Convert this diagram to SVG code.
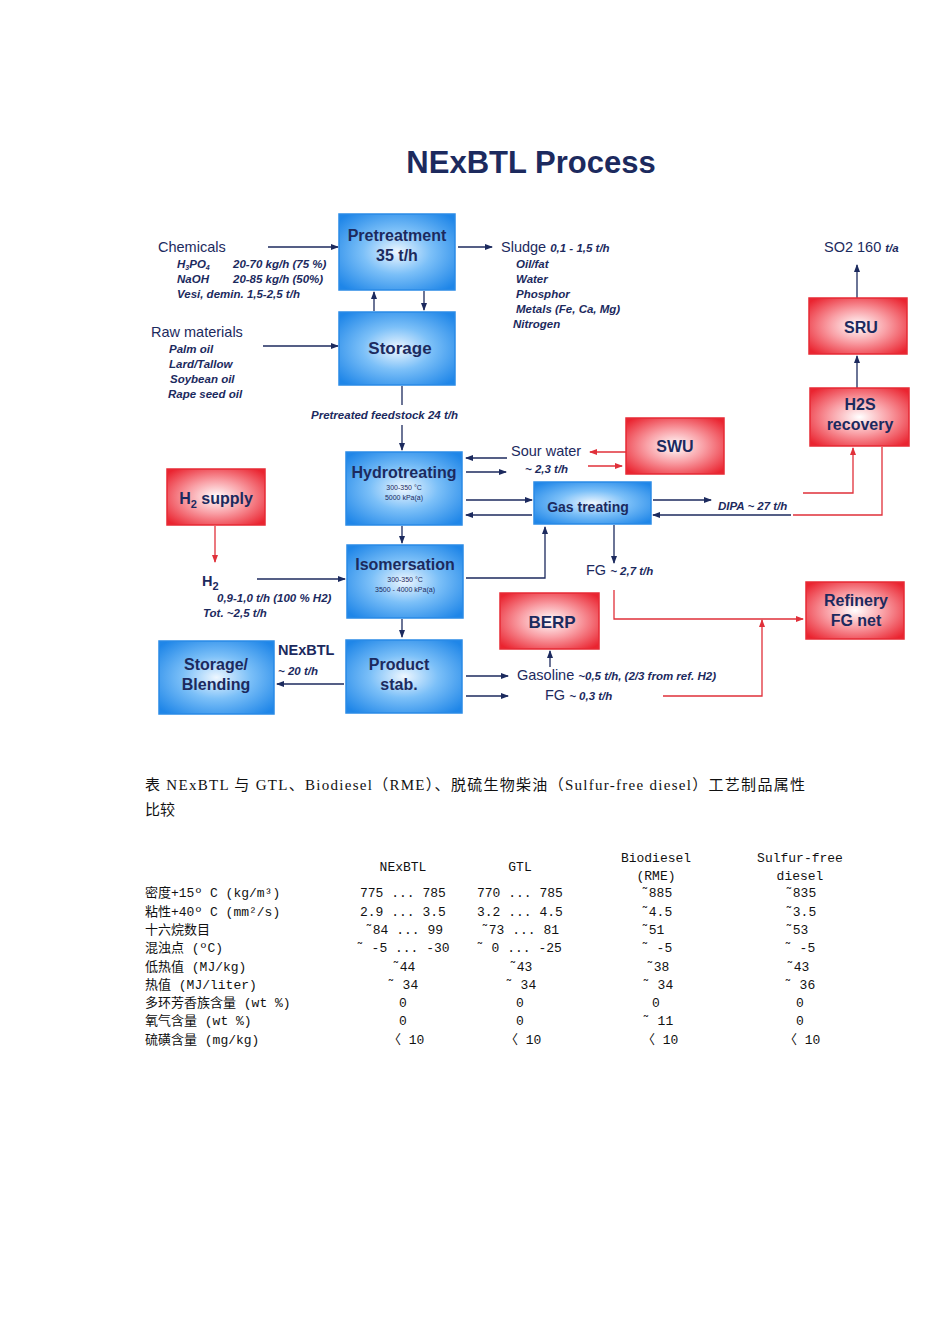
<svg xmlns="http://www.w3.org/2000/svg" width="950" height="1344" viewBox="0 0 950 1344">
<defs>
<radialGradient id="gb" cx="50%" cy="50%" r="65%"><stop offset="0" stop-color="#eef7ff"/><stop offset="0.45" stop-color="#7cc0f8"/><stop offset="1" stop-color="#1f86e8"/></radialGradient>
<radialGradient id="gr" cx="50%" cy="50%" r="65%"><stop offset="0" stop-color="#ffffff"/><stop offset="0.45" stop-color="#f9a0a6"/><stop offset="1" stop-color="#ea2430"/></radialGradient>
<marker id="an" markerWidth="8" markerHeight="8" refX="7" refY="4" orient="auto" markerUnits="userSpaceOnUse"><path d="M0,1 L8,4 L0,7 z" fill="#1c2a5e"/></marker>
<marker id="ar" markerWidth="8" markerHeight="8" refX="7" refY="4" orient="auto" markerUnits="userSpaceOnUse"><path d="M0,1 L8,4 L0,7 z" fill="#e0303a"/></marker>
<style>
.b{fill:url(#gb);stroke:#2a8ae6;stroke-width:1.5}
.r{fill:url(#gr);stroke:#e62a34;stroke-width:1.5}
.bt{font-family:"Liberation Sans",Arial,sans-serif;font-weight:bold;fill:#1c2a5e;text-anchor:middle}
.h{font-family:"Liberation Sans",Arial,sans-serif;font-size:14.5px;fill:#1c2a5e}
.i{font-family:"Liberation Sans",Arial,sans-serif;font-size:11.5px;font-weight:bold;font-style:italic;fill:#1c2a5e}
.s{font-family:"Liberation Sans",Arial,sans-serif;font-size:7px;fill:#1c2a5e;text-anchor:middle}
.n{stroke:#1c2a5e;stroke-width:1.3;fill:none}
.na{stroke:#1c2a5e;stroke-width:1.3;fill:none;marker-end:url(#an)}
.rl{stroke:#e0303a;stroke-width:1.3;fill:none}
.ra{stroke:#e0303a;stroke-width:1.3;fill:none;marker-end:url(#ar)}
.t{font-family:"Liberation Serif","Noto Sans CJK SC",serif;font-size:15px;fill:#111}
.m{font-family:"Liberation Mono","Noto Sans CJK SC",monospace;font-size:13px;fill:#111}
.mc{text-anchor:middle}
</style>
</defs>
<text x="531" y="173" class="bt" font-size="31" fill="#1c2a5e">NExBTL Process</text>

<g id="connectors">
<line x1="268" y1="247" x2="338" y2="247" class="na"/>
<line x1="458" y1="247" x2="492" y2="247" class="na"/>
<line x1="374" y1="311" x2="374" y2="292" class="na"/>
<line x1="424" y1="291" x2="424" y2="310" class="na"/>
<line x1="263" y1="346" x2="338" y2="346" class="na"/>
<line x1="402" y1="386" x2="402" y2="405" class="n"/>
<line x1="402" y1="425" x2="402" y2="450" class="na"/>
<line x1="507" y1="458" x2="466" y2="458" class="na"/>
<line x1="466" y1="472" x2="506" y2="472" class="na"/>
<line x1="626" y1="452" x2="590" y2="452" class="ra"/>
<line x1="588" y1="466" x2="622" y2="466" class="ra"/>
<line x1="466" y1="500" x2="532" y2="500" class="na"/>
<line x1="532" y1="515" x2="466" y2="515" class="na"/>
<line x1="402" y1="526" x2="402" y2="543" class="na"/>
<polyline points="466,578 545,578 545,527" class="na"/>
<line x1="614" y1="525" x2="614" y2="563" class="na"/>
<polyline points="614,590 614,619 803,619" class="ra"/>
<line x1="653" y1="500" x2="711" y2="500" class="na"/>
<line x1="791" y1="515" x2="653" y2="515" class="na"/>
<polyline points="803,493 853,493 853,448" class="ra"/>
<polyline points="793,515 882,515 882,447" class="rl"/>
<line x1="857" y1="388" x2="857" y2="356" class="na"/>
<line x1="857" y1="298" x2="857" y2="265" class="na"/>
<line x1="215" y1="526" x2="215" y2="562" class="ra"/>
<line x1="257" y1="579" x2="345" y2="579" class="na"/>
<line x1="402" y1="619" x2="402" y2="637" class="na"/>
<line x1="344" y1="684" x2="277" y2="684" class="na"/>
<line x1="466" y1="676" x2="508" y2="676" class="na"/>
<line x1="466" y1="696" x2="508" y2="696" class="na"/>
<line x1="550" y1="667" x2="550" y2="651" class="na"/>
<polyline points="663,696 762,696 762,620" class="ra"/>
</g>

<g id="pretreatment"><rect x="339" y="214" width="116" height="76" class="b"/><text x="397" y="241" class="bt" font-size="16">Pretreatment</text><text x="397" y="261" class="bt" font-size="16">35 t/h</text></g>
<g id="storage"><rect x="339" y="312" width="116" height="73" class="b"/><text x="400" y="354" class="bt" font-size="17">Storage</text></g>
<g id="hydrotreating"><rect x="346" y="452" width="116" height="73" class="b"/><text x="404" y="478" class="bt" font-size="16">Hydrotreating</text><text x="404" y="490" class="s">300-350 °C</text><text x="404" y="500" class="s">5000 kPa(a)</text></g>
<g id="isomersation"><rect x="347" y="545" width="116" height="73" class="b"/><text x="405" y="570" class="bt" font-size="16">Isomersation</text><text x="405" y="582" class="s">300-350 °C</text><text x="405" y="592" class="s">3500 - 4000  kPa(a)</text></g>
<g id="product-stab"><rect x="346" y="640" width="116" height="73" class="b"/><text x="399" y="670" class="bt" font-size="16">Product</text><text x="399" y="690" class="bt" font-size="16">stab.</text></g>
<g id="storage-blending"><rect x="159" y="641" width="115" height="73" class="b"/><text x="216" y="670" class="bt" font-size="16">Storage/</text><text x="216" y="690" class="bt" font-size="16">Blending</text></g>
<g id="gas-treating"><rect x="534" y="482" width="117" height="42" class="b"/><text x="588" y="512" class="bt" font-size="14">Gas treating</text></g>
<g id="h2-supply"><rect x="167" y="469" width="98" height="56" class="r"/><text x="216" y="504" class="bt" font-size="16">H<tspan font-size="11" dy="4">2</tspan><tspan dy="-4"> supply</tspan></text></g>
<g id="swu"><rect x="626" y="418" width="98" height="56" class="r"/><text x="675" y="452" class="bt" font-size="16">SWU</text></g>
<g id="sru"><rect x="809" y="298" width="98" height="56" class="r"/><text x="861" y="333" class="bt" font-size="16">SRU</text></g>
<g id="h2s-recovery"><rect x="810" y="388" width="99" height="58" class="r"/><text x="860" y="410" class="bt" font-size="16">H2S</text><text x="860" y="430" class="bt" font-size="16">recovery</text></g>
<g id="berp"><rect x="500" y="593" width="99" height="56" class="r"/><text x="552" y="628" class="bt" font-size="17">BERP</text></g>
<g id="refinery-fg-net"><rect x="806" y="582" width="98" height="57" class="r"/><text x="856" y="606" class="bt" font-size="16">Refinery</text><text x="856" y="626" class="bt" font-size="16">FG net</text></g>

<g id="labels">
<text x="158" y="252" class="h">Chemicals</text>
<text x="177" y="268" class="i">H<tspan font-size="7" dy="2">3</tspan><tspan dy="-2">PO</tspan><tspan font-size="7" dy="2">4</tspan><tspan dy="-2" x="233">20-70 kg/h (75 %)</tspan></text>
<text x="177" y="283" class="i">NaOH<tspan x="233">20-85 kg/h (50%)</tspan></text>
<text x="177" y="298" class="i">Vesi, demin. 1,5-2,5 t/h</text>
<text x="151" y="337" class="h">Raw materials</text>
<text x="169" y="353" class="i">Palm oil</text>
<text x="169" y="368" class="i">Lard/Tallow</text>
<text x="170" y="383" class="i">Soybean oil</text>
<text x="168" y="398" class="i">Rape seed oil</text>
<text x="501" y="252" class="h">Sludge <tspan class="i">0,1 - 1,5 t/h</tspan></text>
<text x="516" y="268" class="i">Oil/fat</text>
<text x="516" y="283" class="i">Water</text>
<text x="516" y="298" class="i">Phosphor</text>
<text x="516" y="313" class="i">Metals (Fe, Ca, Mg)</text>
<text x="513" y="328" class="i">Nitrogen</text>
<text x="311" y="419" class="i">Pretreated feedstock 24 t/h</text>
<text x="824" y="252" class="h">SO2 160 <tspan class="i">t/a</tspan></text>
<text x="511" y="456" class="h">Sour water</text>
<text x="525" y="473" class="i">~ 2,3 t/h</text>
<text x="718" y="510" class="i">DIPA ~ 27 t/h</text>
<text x="586" y="575" class="h">FG <tspan class="i">~ 2,7 t/h</tspan></text>
<text x="202" y="586" class="h" font-size="17" font-weight="bold">H<tspan font-size="11" dy="4">2</tspan></text>
<text x="217" y="602" class="i">0,9-1,0 t/h (100 % H2)</text>
<text x="203" y="617" class="i">Tot. ~2,5 t/h</text>
<text x="278" y="655" class="h" font-weight="bold" font-size="16">NExBTL</text>
<text x="278" y="675" class="i" font-size="13">~ 20 t/h</text>
<text x="517" y="680" class="h">Gasoline <tspan class="i">~0,5 t/h, (2/3 from ref. H2)</tspan></text>
<text x="545" y="700" class="h">FG <tspan class="i">~ 0,3 t/h</tspan></text>
</g>

<g id="table">
<text x="145" y="790" class="t" textLength="660" lengthAdjust="spacing">表  NExBTL 与 GTL、Biodiesel（RME）、脱硫生物柴油（Sulfur-free diesel）工艺制品属性</text>
<text x="145" y="815" class="t">比较</text>
<g class="m mc">
<text x="403" y="871">NExBTL</text>
<text x="520" y="871">GTL</text>
<text x="656" y="862">Biodiesel</text>
<text x="656" y="880">(RME)</text>
<text x="800" y="862">Sulfur-free</text>
<text x="800" y="880">diesel</text>
</g>
<g class="m">
<text x="145" y="897">密度+15º C (kg/m³)</text>
<text x="145" y="916">粘性+40º C (mm²/s)</text>
<text x="145" y="934">十六烷数目</text>
<text x="145" y="952">混浊点 (ºC)</text>
<text x="145" y="971">低热值 (MJ/kg)</text>
<text x="145" y="989">热值 (MJ/liter)</text>
<text x="145" y="1007">多环芳香族含量 (wt %)</text>
<text x="145" y="1025">氧气含量 (wt %)</text>
<text x="145" y="1044">硫磺含量 (mg/kg)</text>

<text x="360" y="897">775 ... 785</text><text x="477" y="897">770 ... 785</text><text x="641" y="897">˜885</text><text x="785" y="897">˜835</text>
<text x="360" y="916">2.9 ... 3.5</text><text x="477" y="916">3.2 ... 4.5</text><text x="641" y="916">˜4.5</text><text x="785" y="916">˜3.5</text>
<text x="365" y="934">˜84 ... 99</text><text x="481" y="934">˜73 ... 81</text><text x="641" y="934">˜51</text><text x="785" y="934">˜53</text>
<text x="356" y="952">˜ -5 ... -30</text><text x="476" y="952">˜ 0 ... -25</text><text x="641" y="952">˜ -5</text><text x="784" y="952">˜ -5</text>
<text x="392" y="971">˜44</text><text x="509" y="971">˜43</text><text x="646" y="971">˜38</text><text x="786" y="971">˜43</text>
<text x="387" y="989">˜ 34</text><text x="505" y="989">˜ 34</text><text x="642" y="989">˜ 34</text><text x="784" y="989">˜ 36</text>
<text x="399" y="1007">0</text><text x="516" y="1007">0</text><text x="652" y="1007">0</text><text x="796" y="1007">0</text>
<text x="399" y="1025">0</text><text x="516" y="1025">0</text><text x="642" y="1025">˜ 11</text><text x="796" y="1025">0</text>
<text x="388" y="1044">〈 10</text><text x="505" y="1044">〈 10</text><text x="642" y="1044">〈 10</text><text x="784" y="1044">〈 10</text>
</g>
</g>
</svg>
